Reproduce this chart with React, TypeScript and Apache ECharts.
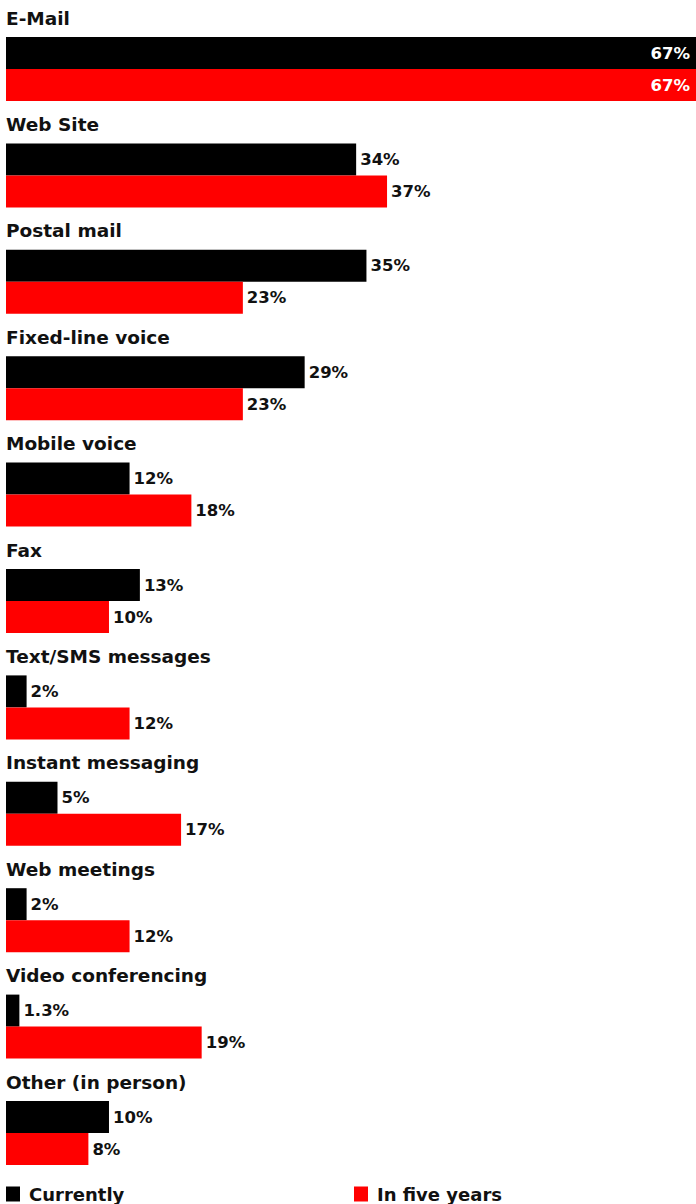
import React, { useEffect, useRef } from "react";
import * as echarts from "echarts";

const categories = [
  "E-Mail",
  "Web Site",
  "Postal mail",
  "Fixed-line voice",
  "Mobile voice",
  "Fax",
  "Text/SMS messages",
  "Instant messaging",
  "Web meetings",
  "Video conferencing",
  "Other (in person)",
];
const currently = [67, 34, 35, 29, 12, 13, 2, 5, 2, 1.3, 10];
const inFiveYears = [67, 37, 23, 23, 18, 10, 12, 17, 12, 19, 8];
const seriesNames = ["Currently", "In five years"];
const MAX = 67;

const FONT = "DejaVu Sans";

function buildData(values: number[]) {
  return values.map((v) =>
    v >= MAX
      ? { value: v, label: { position: "insideRight", color: "#ffffff", distance: 6 } }
      : v
  );
}

export default function App() {
  const ref = useRef<HTMLDivElement>(null);
  useEffect(() => {
    if (!ref.current) return;
    const chart = echarts.init(ref.current, null, { renderer: "svg" });
    const labelCommon = {
      show: true,
      position: "right",
      distance: 4,
      color: "#111",
      fontFamily: FONT,
      fontWeight: "bold",
      fontSize: 16.5,
      formatter: (p: any) => p.value + "%",
    };
    const legendText = {
      fontFamily: FONT,
      fontWeight: "bold",
      fontSize: 18,
      color: "#111",
      padding: [0, 0, 0, 4],
    };
    chart.setOption({
      animation: false,
      backgroundColor: "#ffffff",
      grid: { left: 6, right: 0, top: 15.8, bottom: 17.8, containLabel: false },
      legend: [
        {
          data: [seriesNames[0]],
          left: 6,
          top: 1185,
          icon: "rect",
          itemWidth: 14,
          itemHeight: 15,
          padding: 0,
          textStyle: legendText,
        },
        {
          data: [seriesNames[1]],
          left: 354,
          top: 1185,
          icon: "rect",
          itemWidth: 14,
          itemHeight: 15,
          padding: 0,
          textStyle: legendText,
        },
      ],
      xAxis: {
        type: "value",
        min: 0,
        max: MAX,
        show: false,
      },
      yAxis: {
        type: "category",
        data: categories,
        inverse: true,
        axisLine: { show: false },
        axisTick: { show: false },
        splitLine: { show: false },
        axisLabel: {
          inside: true,
          margin: 0,
          verticalAlign: "middle",
          formatter: (v: string) => "{a|" + v + "}\n{b| }",
          rich: {
            a: {
              color: "#111",
              fontFamily: FONT,
              fontWeight: "bold",
              fontSize: 18.5,
              lineHeight: 22,
            },
            b: {
              fontSize: 10,
              lineHeight: 102,
            },
          },
        },
      },
      series: [
        {
          name: seriesNames[0],
          type: "bar",
          data: buildData(currently),
          barWidth: 32,
          barGap: "0%",
          itemStyle: { color: "#000000" },
          label: labelCommon,
        },
        {
          name: seriesNames[1],
          type: "bar",
          data: buildData(inFiveYears),
          barWidth: 32,
          barGap: "0%",
          itemStyle: { color: "#ff0000" },
          label: labelCommon,
        },
      ],
    });
    return () => chart.dispose();
  }, []);
  return (
    <div
      ref={ref}
      style={{ position: "absolute", left: 0, top: 0, width: 696, height: 1204 }}
    />
  );
}
